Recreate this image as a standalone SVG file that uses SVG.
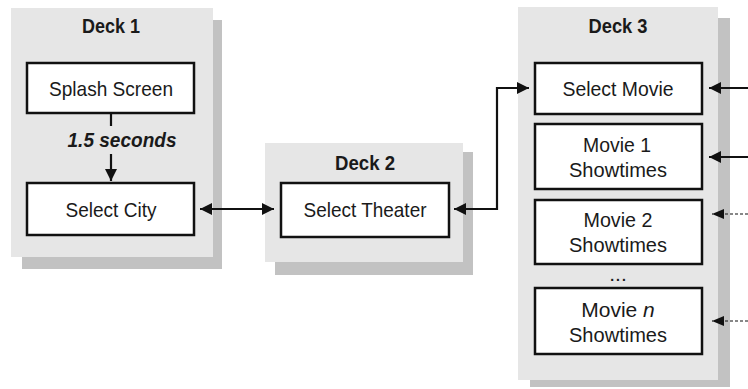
<svg xmlns="http://www.w3.org/2000/svg" width="748" height="389" viewBox="0 0 748 389">
<defs>
<marker id="ah" markerUnits="userSpaceOnUse" markerWidth="14" markerHeight="12" refX="12" refY="6" orient="auto-start-reverse">
<path d="M0,0 L12,6 L0,12 Z" fill="#111"/>
</marker>
<marker id="ahs" markerUnits="userSpaceOnUse" markerWidth="14" markerHeight="12" refX="12" refY="5" orient="auto-start-reverse">
<path d="M0,0 L12,5 L0,10 Z" fill="#111"/>
</marker>
</defs>
<style>
.shadow{fill:#c2c2c2}
.panel{fill:#e6e6e6}
.box{fill:#fff;stroke:#111;stroke-width:2.5}
.title{font-family:"Liberation Sans",Arial,sans-serif;font-weight:bold;font-size:21px;fill:#1a1a1a;text-anchor:middle}
.lbl{font-family:"Liberation Sans",Arial,sans-serif;font-size:21px;fill:#1a1a1a;text-anchor:middle}
.conn{fill:none;stroke:#111;stroke-width:2.2}
.dash{fill:none;stroke:#111;stroke-width:1.2;stroke-dasharray:3,2}
</style>
<rect width="748" height="389" fill="#fff"/>

<g id="deck1">
<rect class="shadow" x="22" y="20" width="200" height="249"/>
<rect class="panel" x="11" y="8" width="202" height="249"/>
<text class="title" x="111" y="33" textLength="58" lengthAdjust="spacingAndGlyphs">Deck 1</text>
</g>
<g id="deck2">
<rect class="shadow" x="275" y="152" width="198" height="123"/>
<rect class="panel" x="265" y="143" width="198" height="119"/>
<text class="title" x="365" y="170" textLength="60" lengthAdjust="spacingAndGlyphs">Deck 2</text>
</g>
<g id="deck3">
<rect class="shadow" x="530" y="18" width="200" height="369"/>
<rect class="panel" x="518" y="7" width="200" height="373"/>
<text class="title" x="618" y="33" textLength="59" lengthAdjust="spacingAndGlyphs">Deck 3</text>
<text class="lbl" x="618" y="281" font-size="14">...</text>
</g>

<g id="splash">
<rect class="box" x="27" y="63" width="167" height="50"/>
<text class="lbl" x="111" y="96" textLength="124" lengthAdjust="spacingAndGlyphs">Splash Screen</text>
</g>
<g id="city">
<rect class="box" x="27" y="183" width="167" height="52"/>
<text class="lbl" x="111" y="217" textLength="91" lengthAdjust="spacingAndGlyphs">Select City</text>
</g>
<g id="theater">
<rect class="box" x="281" y="183" width="168" height="54"/>
<text class="lbl" x="365" y="217" textLength="123" lengthAdjust="spacingAndGlyphs">Select Theater</text>
</g>
<g id="movie">
<rect class="box" x="535" y="63" width="167" height="51"/>
<text class="lbl" x="618" y="96" textLength="111" lengthAdjust="spacingAndGlyphs">Select Movie</text>
</g>
<g id="movie1">
<rect class="box" x="535" y="124" width="167" height="65"/>
<text class="lbl" x="617" y="152" textLength="68" lengthAdjust="spacingAndGlyphs">Movie 1</text>
<text class="lbl" x="618" y="177" textLength="98" lengthAdjust="spacingAndGlyphs">Showtimes</text>
</g>
<g id="movie2">
<rect class="box" x="535" y="200" width="167" height="64"/>
<text class="lbl" x="618" y="227" textLength="69" lengthAdjust="spacingAndGlyphs">Movie 2</text>
<text class="lbl" x="618" y="252" textLength="98" lengthAdjust="spacingAndGlyphs">Showtimes</text>
</g>
<g id="movien">
<rect class="box" x="535" y="288" width="167" height="66"/>
<text class="lbl" x="618" y="317" font-size="20">Movie <tspan font-style="italic">n</tspan></text>
<text class="lbl" x="618" y="342" textLength="98" lengthAdjust="spacingAndGlyphs">Showtimes</text>
</g>

<g id="connectors">
<line class="conn" x1="111" y1="113" x2="111" y2="126"/>
<text x="122" y="147" font-family="'Liberation Sans',Arial,sans-serif" font-weight="bold" font-style="italic" font-size="21" fill="#1a1a1a" text-anchor="middle" textLength="109" lengthAdjust="spacingAndGlyphs">1.5 seconds</text>
<line class="conn" x1="111" y1="154" x2="111" y2="181" marker-end="url(#ah)"/>
<line class="conn" x1="200" y1="209" x2="274" y2="209" marker-start="url(#ah)" marker-end="url(#ah)"/>
<polyline class="conn" points="454,209 497,209 497,88 529,88" marker-start="url(#ah)" marker-end="url(#ah)"/>
<line class="conn" x1="748" y1="88" x2="709" y2="88" marker-end="url(#ah)"/>
<line class="conn" x1="748" y1="157" x2="709" y2="157" marker-end="url(#ah)"/>
<line class="dash" x1="748" y1="214" x2="712" y2="214" marker-end="url(#ahs)"/>
<line class="dash" x1="748" y1="321" x2="712" y2="321" marker-end="url(#ahs)"/>
</g>
</svg>
